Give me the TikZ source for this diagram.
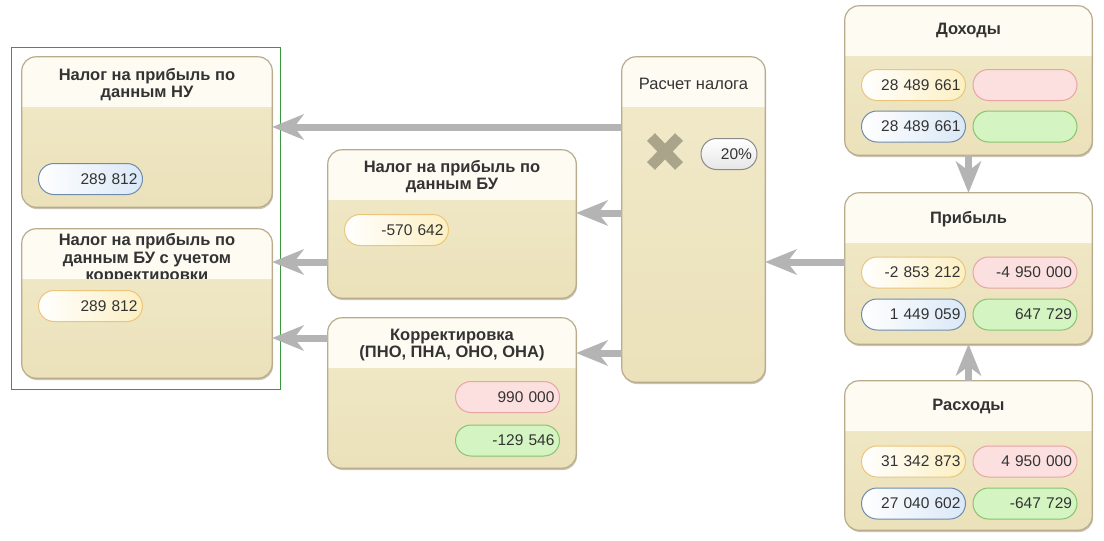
\documentclass[tikz,border=0pt]{standalone}
\usepackage{fontspec}
\setmainfont{Liberation Sans}
\usetikzlibrary{shadows,arrows.meta,calc}
\definecolor{headcol}{HTML}{FDFBF2}
\definecolor{bodyA}{HTML}{F1EACA}
\definecolor{bodyB}{HTML}{EBE1BA}
\definecolor{bordercol}{HTML}{B8AC8C}
\definecolor{shadowcol}{HTML}{8A7A55}
\definecolor{arrcol}{HTML}{B4B4B4}
\definecolor{txt}{HTML}{333333}
\definecolor{yelF}{HTML}{FCEFC2}
\definecolor{yelB}{HTML}{EBC57C}
\definecolor{pinkF}{HTML}{FCE0E0}
\definecolor{pinkB}{HTML}{E9A4A4}
\definecolor{bluF}{HTML}{DAE8F7}
\definecolor{bluB}{HTML}{6E8CAD}
\definecolor{grnF}{HTML}{D4F4C2}
\definecolor{grnB}{HTML}{86C470}
\definecolor{whtF}{HTML}{E6E6E6}
\definecolor{whtB}{HTML}{8A8A8A}
\definecolor{xcol}{HTML}{AAA58A}
\definecolor{framecol}{HTML}{3A9A3A}
\tikzset{
  x=1pt, y=-1pt,
  panel/.style={rectangle, rounded corners=14pt, top color=bodyA, bottom color=bodyB,
    drop shadow={shadow xshift=1pt, shadow yshift=-2pt, opacity=0.45, fill=shadowcol},
    inner sep=0pt},
  pborder/.style={draw=bordercol, line width=1.2pt, rounded corners=14pt},
  ptitle/.style={font=\bfseries\fontsize{16.5}{17.5}\selectfont, text=txt, align=center, inner sep=0pt},
  pill/.style={rectangle, rounded corners=15.5pt, minimum height=31pt, text width=94pt,
    align=right, inner sep=5pt, font=\fontsize{15.5}{17}\selectfont, text=txt, line width=1pt},
  pyel/.style={pill, draw=yelB, left color=white, right color=yelF},
  ppink/.style={pill, draw=pinkB, fill=pinkF},
  pblu/.style={pill, draw=bluB, left color=white, right color=bluF},
  pgrn/.style={pill, draw=grnB, fill=grnF},
  pwht/.style={pill, draw=whtB, top color=white, bottom color=whtF, text width=46pt},
  arr/.style={draw=arrcol, line width=7pt,
    -{Stealth[length=32pt,width=26pt,inset=10pt,line width=0pt]}},
}
\newcommand\mypanel[7]{%
  \node[panel, minimum width=#4pt, minimum height=#5pt] (#1) at (#2,#3) {};
  \begin{scope}
    \clip[rounded corners=14pt] (#1.south west) rectangle (#1.north east);
    \clip ([yshift=1pt]#1.north west) rectangle ([yshift=-50pt]#1.north east);
    \fill[headcol] ([yshift=1pt]#1.north west) rectangle ([yshift=-50pt]#1.north east);
    \node[ptitle] (#1-t) at ([yshift=#7]#1.north) {#6};
  \end{scope}
  \draw[pborder] (#1.south west) rectangle (#1.north east);
}
\begin{document}
\begin{tikzpicture}
\useasboundingbox[fill=white] (0,0) rectangle (1104,541);

% green frame
\draw[framecol, line width=1pt] (11,47) rectangle (280,389);

% panels
\mypanel{nu}{147}{132}{250}{150}{Налог на прибыль по\\данным НУ}{-28pt}
\mypanel{buc}{147}{303.5}{250}{149}{Налог на прибыль по\\данным БУ с учетом\\корректировки}{-30pt}
\mypanel{bu}{452}{224}{248}{148}{Налог на прибыль по\\данным БУ}{-27pt}
\mypanel{korr}{452}{393}{248}{150}{Корректировка\\(ПНО, ПНА, ОНО, ОНА)}{-27pt}
\mypanel{calc}{693.5}{219.5}{143}{325}{\mdseries Расчет налога}{-27pt}
\mypanel{dox}{968.5}{80.5}{247}{149}{Доходы}{-25pt}
\mypanel{prib}{968.5}{268.5}{247}{151}{Прибыль}{-26pt}
\mypanel{rash}{968.5}{455.5}{247}{149}{Расходы}{-26pt}

% pills
\node[pblu] (nu-v) at (90.5,179) {289 812};
\node[pyel] (buc-v) at (90.5,306) {289 812};
\node[pyel] (bu-v) at (396.5,230) {-570 642};
\node[ppink] (korr-a) at (507.5,397) {990 000};
\node[pgrn] (korr-b) at (507.5,440.5) {-129 546};
\node[pwht] (rate) at (729,154) {20\%};

\node[pyel] (dox-a) at (913.5,85) {28 489 661};
\node[ppink] (dox-b) at (1025,85) {};
\node[pblu] (dox-c) at (913.5,126.5) {28 489 661};
\node[pgrn] (dox-d) at (1025,126.5) {};

\node[pyel] (prib-a) at (913.5,272.5) {-2 853 212};
\node[ppink] (prib-b) at (1025,272.5) {-4 950 000};
\node[pblu] (prib-c) at (913.5,314.5) {1 449 059};
\node[pgrn] (prib-d) at (1025,314.5) {647 729};

\node[pyel] (rash-a) at (913.5,461.5) {31 342 873};
\node[ppink] (rash-b) at (1025,461.5) {4 950 000};
\node[pblu] (rash-c) at (913.5,503.5) {27 040 602};
\node[pgrn] (rash-d) at (1025,503.5) {-647 729};

% X icon
\draw[xcol, line width=11pt] (651,137) -- (679,166) (651,166) -- (679,137);

% connectors
\coordinate (c1) at ([yshift=5pt]nu.east);
\coordinate (c2) at ([yshift=11pt]bu.east);
\coordinate (c3) at ([yshift=41.5pt]buc.east);
\coordinate (c4) at ([yshift=-34.5pt]buc.east);
\coordinate (c5) at ([yshift=40pt]korr.east);
\coordinate (c6) at ([yshift=6.5pt]prib.west);
\draw[arr] (calc.west |- c1) -- (c1);
\draw[arr] (calc.west |- c2) -- (c2);
\draw[arr] (bu.west |- c3) -- (c3);
\draw[arr] (korr.west |- c4) -- (c4);
\draw[arr] (calc.west |- c5) -- (c5);
\draw[arr] (c6) -- (calc.east |- c6);
\draw[arr] (dox.south) -- (prib.north);
\draw[arr] (rash.north) -- (prib.south);
\end{tikzpicture}
\end{document}
